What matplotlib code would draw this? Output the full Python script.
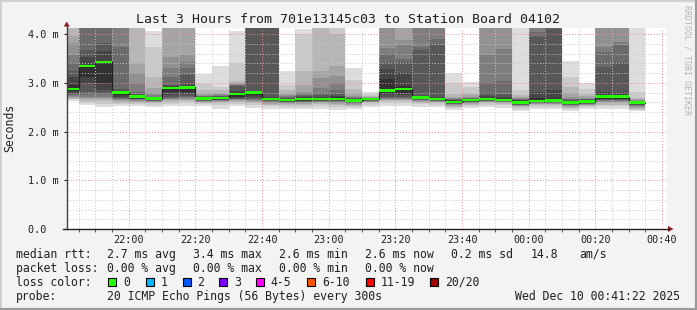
import matplotlib
matplotlib.use('Agg')
import matplotlib.pyplot as plt
import matplotlib.dates as mdates
import numpy as np
import pandas as pd
from matplotlib.lines import Line2D
from matplotlib.patches import Rectangle, Polygon

MONO = 'DejaVu Sans Mono'
W, H = 697, 310

# 5 minute bins shown in the graph (start of each bin)
bin_start = pd.date_range('2025-12-09 21:40', periods=35, freq='5min')
view_start = pd.Timestamp('2025-12-09 21:41:22')
view_end = pd.Timestamp('2025-12-10 00:41:22')

# median rtt per bin, ms
median_ms = [2.875, 3.35, 3.435, 2.80, 2.72, 2.68, 2.895, 2.91, 2.68, 2.69,
             2.77, 2.80, 2.675, 2.65, 2.67, 2.675, 2.67, 2.635, 2.675, 2.84,
             2.875, 2.70, 2.675, 2.61, 2.65, 2.675, 2.655, 2.595, 2.63, 2.635,
             2.595, 2.615, 2.72, 2.72, 2.595]

# 20 sorted pings per bin, ms (values above the top are off the chart)
pings_ms = [
    [2.62, 2.66, 2.68, 2.70, 2.72, 2.74, 2.76, 2.78, 2.80, 2.84, 2.96, 3.12, 3.24, 3.40, 3.57, 3.82, 3.97, 4.2, 4.3, 4.4],
    [2.55, 2.59, 2.63, 2.66, 2.69, 2.72, 2.76, 2.82, 2.99, 3.13, 3.37, 3.54, 3.68, 4.2, 4.3, 4.4, 4.5, 4.6, 4.7, 4.8],
    [2.51, 2.57, 2.62, 2.66, 2.69, 2.72, 2.75, 2.79, 2.85, 3.00, 3.45, 3.66, 3.83, 4.2, 4.3, 4.4, 4.5, 4.6, 4.7, 4.8],
    [2.52, 2.56, 2.59, 2.62, 2.64, 2.66, 2.68, 2.70, 2.72, 2.76, 2.82, 2.84, 2.88, 3.74, 4.2, 4.3, 4.4, 4.5, 4.6, 4.7],
    [2.52, 2.56, 2.59, 2.61, 2.63, 2.65, 2.66, 2.67, 2.68, 2.70, 2.74, 2.75, 2.77, 2.82, 2.99, 3.20, 3.40, 4.2, 4.3, 4.4],
    [2.51, 2.55, 2.58, 2.60, 2.61, 2.62, 2.63, 2.64, 2.65, 2.66, 2.69, 2.70, 2.71, 2.72, 2.75, 2.80, 2.89, 3.13, 3.74, 4.07],
    [2.52, 2.57, 2.61, 2.64, 2.66, 2.68, 2.70, 2.72, 2.76, 2.82, 2.91, 2.93, 2.96, 3.13, 3.30, 3.54, 4.2, 4.3, 4.4, 4.5],
    [2.53, 2.58, 2.62, 2.65, 2.67, 2.69, 2.71, 2.74, 2.78, 2.82, 2.93, 2.96, 3.16, 3.30, 3.43, 3.57, 4.2, 4.3, 4.4, 4.5],
    [2.52, 2.56, 2.58, 2.60, 2.61, 2.62, 2.63, 2.64, 2.645, 2.65, 2.69, 2.705, 2.71, 2.73, 2.74, 2.76, 2.80, 2.85, 2.98, 3.19],
    [2.46, 2.55, 2.59, 2.61, 2.62, 2.63, 2.64, 2.65, 2.66, 2.67, 2.70, 2.72, 2.73, 2.74, 2.75, 2.77, 2.80, 2.85, 2.91, 3.34],
    [2.52, 2.56, 2.60, 2.62, 2.64, 2.66, 2.67, 2.68, 2.70, 2.71, 2.80, 2.84, 2.94, 2.95, 2.96, 2.97, 2.99, 3.03, 3.40, 4.07],
    [2.49, 2.55, 2.58, 2.60, 2.62, 2.64, 2.66, 2.68, 2.72, 2.76, 2.82, 2.84, 4.2, 4.3, 4.4, 4.5, 4.6, 4.7, 4.8, 4.9],
    [2.47, 2.52, 2.55, 2.57, 2.59, 2.60, 2.62, 2.64, 2.65, 2.66, 2.70, 2.72, 4.2, 4.3, 4.4, 4.5, 4.6, 4.7, 4.8, 4.9],
    [2.46, 2.51, 2.54, 2.56, 2.58, 2.59, 2.60, 2.61, 2.62, 2.63, 2.67, 2.68, 2.70, 2.72, 2.74, 2.76, 2.80, 2.85, 2.95, 3.24],
    [2.47, 2.51, 2.55, 2.57, 2.59, 2.60, 2.61, 2.62, 2.63, 2.64, 2.69, 2.71, 2.74, 2.76, 2.79, 2.82, 2.95, 3.25, 4.00, 4.10],
    [2.47, 2.52, 2.56, 2.58, 2.60, 2.61, 2.62, 2.63, 2.64, 2.65, 2.70, 2.72, 2.76, 2.80, 2.90, 3.10, 3.25, 4.2, 4.3, 4.4],
    [2.45, 2.51, 2.55, 2.57, 2.59, 2.60, 2.62, 2.63, 2.64, 2.65, 2.71, 2.74, 2.78, 2.85, 3.00, 3.15, 3.35, 4.00, 4.2, 4.3],
    [2.46, 2.50, 2.53, 2.55, 2.57, 2.58, 2.59, 2.60, 2.61, 2.62, 2.66, 2.68, 2.69, 2.70, 2.71, 2.74, 2.80, 2.88, 3.05, 3.30],
    [2.50, 2.55, 2.58, 2.60, 2.61, 2.62, 2.63, 2.64, 2.65, 2.66, 2.68, 2.69, 2.69, 2.70, 2.70, 2.71, 2.72, 2.74, 2.77, 2.82],
    [2.52, 2.58, 2.62, 2.64, 2.66, 2.68, 2.70, 2.72, 2.76, 2.80, 3.08, 3.28, 3.40, 3.60, 3.71, 4.2, 4.3, 4.4, 4.5, 4.6],
    [2.52, 2.58, 2.62, 2.64, 2.66, 2.68, 2.70, 2.72, 2.76, 2.80, 2.93, 3.20, 3.40, 3.50, 3.77, 3.89, 4.2, 4.3, 4.4, 4.5],
    [2.51, 2.56, 2.59, 2.61, 2.62, 2.64, 2.65, 2.66, 2.67, 2.68, 2.72, 2.74, 3.67, 3.74, 4.2, 4.3, 4.4, 4.5, 4.6, 4.7],
    [2.50, 2.55, 2.58, 2.60, 2.61, 2.62, 2.63, 2.64, 2.65, 2.66, 2.70, 2.72, 3.77, 3.90, 4.2, 4.3, 4.4, 4.5, 4.6, 4.7],
    [2.44, 2.48, 2.51, 2.53, 2.55, 2.56, 2.57, 2.58, 2.59, 2.60, 2.63, 2.64, 2.65, 2.66, 2.67, 2.69, 2.72, 2.78, 3.00, 3.21],
    [2.48, 2.52, 2.54, 2.56, 2.58, 2.59, 2.60, 2.61, 2.62, 2.63, 2.66, 2.67, 2.68, 2.69, 2.70, 2.72, 2.75, 2.80, 2.91, 3.02],
    [2.50, 2.55, 2.58, 2.60, 2.61, 2.62, 2.63, 2.64, 2.65, 2.66, 2.70, 2.74, 2.80, 3.00, 3.57, 4.2, 4.3, 4.4, 4.5, 4.6],
    [2.49, 2.54, 2.57, 2.59, 2.60, 2.61, 2.62, 2.63, 2.64, 2.64, 2.68, 2.72, 2.78, 3.03, 3.69, 4.2, 4.3, 4.4, 4.5, 4.6],
    [2.43, 2.47, 2.50, 2.52, 2.53, 2.54, 2.55, 2.56, 2.57, 2.58, 2.62, 2.64, 2.65, 2.66, 2.67, 2.69, 2.72, 2.76, 2.85, 4.3],
    [2.47, 2.51, 2.54, 2.56, 2.57, 2.58, 2.59, 2.60, 2.61, 2.62, 2.70, 2.81, 3.94, 4.04, 4.2, 4.3, 4.4, 4.5, 4.6, 4.7],
    [2.47, 2.51, 2.54, 2.56, 2.57, 2.58, 2.59, 2.60, 2.61, 2.62, 2.70, 2.86, 4.10, 4.15, 4.2, 4.3, 4.4, 4.5, 4.6, 4.7],
    [2.42, 2.46, 2.48, 2.50, 2.52, 2.54, 2.55, 2.56, 2.57, 2.58, 2.61, 2.63, 2.65, 2.66, 2.68, 2.72, 2.80, 2.92, 3.13, 3.44],
    [2.46, 2.50, 2.52, 2.54, 2.55, 2.56, 2.57, 2.58, 2.59, 2.60, 2.63, 2.65, 2.66, 2.67, 2.68, 2.70, 2.73, 2.78, 2.88, 2.99],
    [2.46, 2.52, 2.55, 2.58, 2.60, 2.62, 2.64, 2.65, 2.66, 2.68, 2.76, 2.82, 3.33, 3.64, 3.74, 4.2, 4.3, 4.4, 4.5, 4.6],
    [2.46, 2.52, 2.55, 2.58, 2.60, 2.62, 2.64, 2.65, 2.66, 2.67, 2.75, 2.80, 3.40, 3.78, 3.85, 4.2, 4.3, 4.4, 4.5, 4.6],
    [2.42, 2.45, 2.47, 2.49, 2.51, 2.53, 2.54, 2.55, 2.56, 2.57, 2.59, 2.60, 2.61, 2.62, 2.63, 2.64, 2.66, 2.70, 2.82, 4.3],
]

y_ticks = [0, 1, 2, 3, 4]
y_tick_labels = ['0.0  ', '1.0 m', '2.0 m', '3.0 m', '4.0 m']

title = 'Last 3 Hours from 701e13145c03 to Station Board 04102'

rtt_row = [('median rtt:', 16), ('2.7 ms avg', 107.3), ('3.4 ms max', 193.3),
           ('2.6 ms min', 279.3), ('2.6 ms now', 365.3), ('0.2 ms sd', 451.3),
           ('14.8', 530.3), ('am/s', 579.3)]
loss_row = [('packet loss:', 16), ('0.00 % avg', 107.3), ('0.00 % max', 193.3),
            ('0.00 % min', 279.3), ('0.00 % now', 365.3)]
loss_labels = ['0', '1', '2', '3', '4-5', '6-10', '11-19', '20/20']
loss_colors = ['#26ff00', '#00b8ff', '#0059ff', '#7e00ff', '#ff00ff', '#ff5500', '#ff0000', '#a10000']
loss_box_x = [108.3, 145.7, 182.7, 219.3, 256.0, 307.3, 365.7, 430.3]
loss_text_x = [123.3, 160.7, 197.3, 234.3, 270.7, 322.3, 380.3, 445.3]
probe_text = '20 ICMP Echo Pings (56 Bytes) every 300s'
date_text = 'Wed Dec 10 00:41:22 2025'


def fx(px):
    return px / W


def fy(py):
    return 1 - py / H


fig = plt.figure(figsize=(W / 100, H / 100), dpi=100, facecolor='#f3f3f3')

# 3d-ish frame: light top/left, darker bottom/right
fig.add_artist(Line2D([0, 0, 1], [0, 1, 1], transform=fig.transFigure,
                      color='#cfcfcf', lw=2))
fig.add_artist(Line2D([0, 1, 1], [0, 0, 1], transform=fig.transFigure,
                      color='#9a9a9a', lw=3))

ax = fig.add_axes([fx(66.7), fy(229), fx(600), (229 - 27.7) / H])
ax.set_facecolor('white')

x = mdates.date2num(bin_start)
bw = 5 / 1440
pings = np.array(pings_ms)
med = np.array(median_ms)

# smoke: pair k spans ping k .. ping 21-k, inner pairs darker
for k in range(1, 11):
    lo = pings[:, k - 1]
    hi = pings[:, 20 - k]
    g = int(190 / 10 * (10 - k)) + 50
    ax.bar(x, hi - lo, bottom=lo, width=bw, align='edge',
           color='#%02x%02x%02x' % (g, g, g), linewidth=0, zorder=1)

# median: dark step plus green loss colour bars
xs = np.append(x, x[-1] + bw)
ax.step(xs, np.append(med, med[-1]), where='post', color='#202020', lw=0.9, zorder=3)
ax.bar(x, 0.05, bottom=med - 0.025, width=bw, align='edge',
       color=loss_colors[0], linewidth=0, zorder=4)

ax.set_xlim(mdates.date2num(view_start), mdates.date2num(view_end))
ax.set_ylim(0, 4.134)

ax.xaxis.set_major_locator(mdates.MinuteLocator(byminute=[0, 20, 40]))
ax.xaxis.set_minor_locator(mdates.MinuteLocator(byminute=range(0, 60, 5)))
ax.xaxis.set_major_formatter(mdates.DateFormatter('%H:%M'))
ax.set_yticks(y_ticks)
ax.set_yticklabels(y_tick_labels)
ax.set_yticks(np.arange(0, 4.2, 0.2), minor=True)

ax.set_axisbelow(False)
ax.grid(which='minor', color='#c8c8c8', linestyle=(0, (1, 2)), linewidth=0.7)
ax.grid(which='major', color='#f08a8a', linestyle=(0, (1, 2)), linewidth=0.7)

for s in ax.spines.values():
    s.set_visible(False)

ax.tick_params(axis='x', which='major', length=0, pad=4, labelsize=7.3, colors='#202020')
ax.tick_params(axis='x', which='minor', length=2, color='#404040')
ax.tick_params(axis='y', which='major', length=2, pad=4, labelsize=7.3, colors='#202020')
ax.tick_params(axis='y', which='minor', length=0)
for lab in ax.get_xticklabels() + ax.get_yticklabels():
    lab.set_family(MONO)

# axis lines with arrows
fig.add_artist(Line2D([fx(66.7), fx(66.7)], [fy(229), fy(26)], color='#404040', lw=1))
fig.add_artist(Line2D([fx(63), fx(669)], [fy(229), fy(229)], color='#202020', lw=1))
fig.add_artist(Polygon([(fx(63.7), fy(26.5)), (fx(69.7), fy(26.5)), (fx(66.7), fy(21.5))],
                       closed=True, transform=fig.transFigure, color='#902020', lw=0))
fig.add_artist(Polygon([(fx(668), fy(226)), (fx(668), fy(232)), (fx(673.5), fy(229))],
                       closed=True, transform=fig.transFigure, color='#902020', lw=0))

fig.text(fx(348), fy(19.3), title, ha='center', va='center', fontsize=9.5,
         family=MONO, color='#202020')
fig.text(fx(10), fy(128), 'Seconds', rotation=90, ha='center', va='center',
         fontsize=8.3, family=MONO, color='#202020')
fig.text(fx(687.5), fy(60), 'RRDTOOL / TOBI OETIKER', rotation=270, ha='center',
         va='center', fontsize=6, family=MONO, color='#b4b4b4')

for txt, px in rtt_row:
    fig.text(fx(px), fy(254.3), txt, ha='left', va='center', fontsize=8.3,
             family=MONO, color='#202020')
for txt, px in loss_row:
    fig.text(fx(px), fy(268.3), txt, ha='left', va='center', fontsize=8.3,
             family=MONO, color='#202020')

fig.text(fx(16), fy(282.3), 'loss color:', ha='left', va='center', fontsize=8.3,
         family=MONO, color='#202020')
for lab, col, bx, tx in zip(loss_labels, loss_colors, loss_box_x, loss_text_x):
    fig.add_artist(Rectangle((fx(bx), fy(286.3)), fx(8), 8 / H, transform=fig.transFigure,
                             facecolor=col, edgecolor='black', linewidth=0.8))
    fig.text(fx(tx), fy(282.3), lab, ha='left', va='center', fontsize=8.3,
             family=MONO, color='#202020')

fig.text(fx(16), fy(296.3), 'probe:', ha='left', va='center', fontsize=8.3,
         family=MONO, color='#202020')
fig.text(fx(107.3), fy(296.3), probe_text, ha='left', va='center', fontsize=8.3,
         family=MONO, color='#202020')
fig.text(fx(680.3), fy(296.3), date_text, ha='right', va='center', fontsize=8.3,
         family=MONO, color='#202020')

fig.savefig('out.png', dpi=100, facecolor=fig.get_facecolor())
